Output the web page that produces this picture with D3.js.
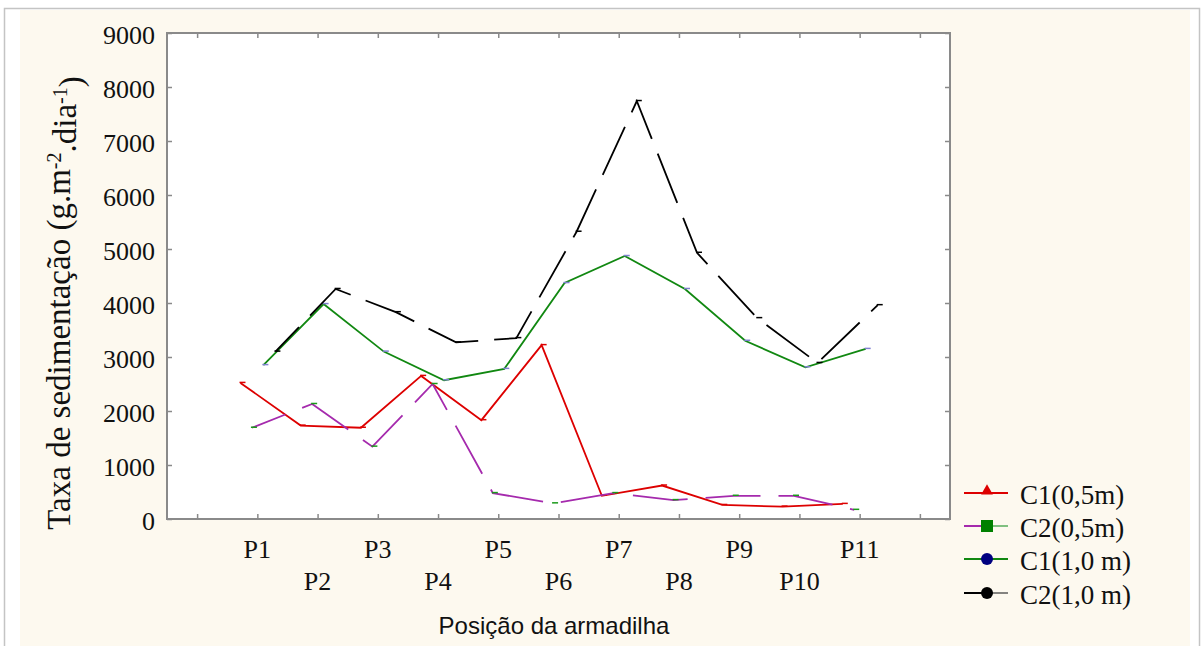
<!DOCTYPE html>
<html>
<head>
<meta charset="utf-8">
<script src="https://cdn.jsdelivr.net/npm/d3@7"></script>
<style>
  body { margin: 0; background: #ffffff; }
  svg { display: block; }
</style>
</head>
<body>
<div id="chart"></div>
<script>
// Trap positions (x categories)
const positions = ['P1', 'P2', 'P3', 'P4', 'P5', 'P6', 'P7', 'P8', 'P9', 'P10', 'P11'];

// Sedimentation rate (g.m-2.dia-1)
const c1_05 = [2520, 1730, 1690, 2650, 1830, 3220, 430, 620, 260, 230, 280];
const c2_05 = [1690, 2130, 1340, 2500, 480, 290, 480, 350, 430, 430, 170];
const c1_10 = [2850, 3980, 3100, 2570, 2780, 4370, 4870, 4260, 3300, 2810, 3150];
const c2_10 = [3100, 4260, 3830, 3270, 3350, 5320, 7740, 4930, 3720, 2890, 3960];

const yTicks = [0, 1000, 2000, 3000, 4000, 5000, 6000, 7000, 8000, 9000];

const seriesList = [
    { label: 'C1(0,5m)',  values: c1_05, color: '#dd0000', mark: '#dd0000', dash: null,    shift: -0.28, legendMarker: 'triangle', legendFill: '#dd0000', legendRight: '#dd0000' },
    { label: 'C2(0,5m)',  values: c2_05, color: '#a52aad', mark: '#1a9a1a', dash: '55,18', shift: -0.09, legendMarker: 'square',   legendFill: '#008000', legendRight: '#80c080' },
    { label: 'C1(1,0 m)', values: c1_10, color: '#118811', mark: '#8080d0', dash: null,    shift: 0.10,  legendMarker: 'circle',   legendFill: '#000080', legendRight: '#118811' },
    { label: 'C2(1,0 m)', values: c2_10, color: '#000000', mark: '#000000', dash: '53,16', shift: 0.30,  legendMarker: 'circle',   legendFill: '#000000', legendRight: '#333333' }
];

const W = 1204, H = 646;
const plot = { left: 167, right: 950, top: 33, bottom: 519 };
const serif = '"Liberation Serif", "Times New Roman", serif';
const sans = '"Liberation Sans", Arial, sans-serif';

const svg = d3.select('#chart').append('svg')
    .attr('width', W)
    .attr('height', H);

// Outer frame + cream panel
svg.append('rect')
    .attr('x', 4.5).attr('y', 8.5)
    .attr('width', 1195).attr('height', 650)
    .attr('fill', '#ffffff')
    .attr('stroke', '#c4c4c4')
    .attr('stroke-width', 1.5);
svg.append('rect')
    .attr('x', 20).attr('y', 10)
    .attr('width', 1170).attr('height', 640)
    .attr('fill', '#fdf9ef');

const x = d3.scaleLinear()
    .domain([-0.5, positions.length + 1.5])
    .range([plot.left, plot.right]);

const y = d3.scaleLinear()
    .domain([0, 9000])
    .range([plot.bottom, plot.top]);

// Plot area
svg.append('rect')
    .attr('x', plot.left).attr('y', plot.top)
    .attr('width', plot.right - plot.left)
    .attr('height', plot.bottom - plot.top)
    .attr('fill', '#ffffff');

const xTickVals = d3.range(0, positions.length + 2);
const tickLen = 5;
const axisColor = '#8a8a8a';

// Axes (ticks pointing inward on all four sides)
const axisBottom = svg.append('g')
    .attr('transform', `translate(0,${plot.bottom})`)
    .call(d3.axisTop(x).tickValues(xTickVals).tickSize(tickLen).tickSizeOuter(0).tickFormat(''));
const axisTop = svg.append('g')
    .attr('transform', `translate(0,${plot.top})`)
    .call(d3.axisBottom(x).tickValues(xTickVals).tickSize(tickLen).tickSizeOuter(0).tickFormat(''));
const axisLeft = svg.append('g')
    .attr('transform', `translate(${plot.left},0)`)
    .call(d3.axisRight(y).tickValues(yTicks).tickSize(tickLen).tickSizeOuter(0).tickFormat(''));
const axisRight = svg.append('g')
    .attr('transform', `translate(${plot.right},0)`)
    .call(d3.axisLeft(y).tickValues(yTicks).tickSize(tickLen).tickSizeOuter(0).tickFormat(''));

[axisBottom, axisTop, axisLeft, axisRight].forEach(a => {
    a.select('.domain').remove();
    a.selectAll('line').attr('stroke', axisColor).attr('stroke-width', 1.5);
});

// Frame
svg.append('rect')
    .attr('x', plot.left).attr('y', plot.top)
    .attr('width', plot.right - plot.left)
    .attr('height', plot.bottom - plot.top)
    .attr('fill', 'none')
    .attr('stroke', axisColor)
    .attr('stroke-width', 2);

// Y tick labels
svg.append('g').selectAll('text')
    .data(yTicks)
    .enter().append('text')
    .attr('x', 155)
    .attr('y', d => y(d))
    .attr('dy', '0.42em')
    .attr('text-anchor', 'end')
    .style('font-family', serif)
    .style('font-size', '26px')
    .style('fill', '#111')
    .text(d => d);

// X category labels, staggered on two rows
svg.append('g').selectAll('text')
    .data(positions)
    .enter().append('text')
    .attr('x', (d, i) => x(i + 1))
    .attr('y', (d, i) => i % 2 === 0 ? 558 : 590)
    .attr('text-anchor', 'middle')
    .style('font-family', serif)
    .style('font-size', '26px')
    .style('fill', '#111')
    .text(d => d);

// Axis titles
svg.append('text')
    .attr('x', 554)
    .attr('y', 634)
    .attr('text-anchor', 'middle')
    .style('font-family', sans)
    .style('font-size', '24px')
    .style('fill', '#111')
    .text('Posição da armadilha');

const yTitle = svg.append('text')
    .attr('transform', 'translate(70,303) rotate(-90)')
    .attr('text-anchor', 'middle')
    .style('font-family', serif)
    .style('font-size', '33px')
    .style('fill', '#111');
yTitle.append('tspan').text('Taxa de sedimentação (g.m');
yTitle.append('tspan').attr('dy', '-0.45em').style('font-size', '20px').text('-2');
yTitle.append('tspan').attr('dy', '0.45em').text('.dia');
yTitle.append('tspan').attr('dy', '-0.45em').style('font-size', '20px').text('-1');
yTitle.append('tspan').attr('dy', '0.45em').text(')');

// Lines
const lineGen = d3.line()
    .x(d => d.px)
    .y(d => y(d.v));

seriesList.forEach(s => {
    const pts = s.values.map((v, i) => ({ px: x(i + 1 + s.shift), v }));
    svg.append('path')
        .datum(pts)
        .attr('d', lineGen)
        .attr('fill', 'none')
        .attr('stroke', s.color)
        .attr('stroke-width', 1.8)
        .attr('stroke-linejoin', 'miter')
        .attr('stroke-dasharray', s.dash)
        .attr('stroke-dashoffset', s.dash ? 19 : null);

    // tiny point markers
    svg.append('g').selectAll('line')
        .data(pts)
        .enter().append('line')
        .attr('x1', d => d.px - 1)
        .attr('x2', d => d.px + 5)
        .attr('y1', d => y(d.v) - 0.5)
        .attr('y2', d => y(d.v) - 0.5)
        .attr('stroke', s.mark)
        .attr('stroke-width', 1.5);
});

// Legend
const legend = svg.append('g');
const rowY = [493, 526, 559, 593];
seriesList.forEach((s, i) => {
    const row = legend.append('g').attr('transform', `translate(0,${rowY[i]})`);
    row.append('line')
        .attr('x1', 964).attr('x2', 987)
        .attr('y1', 0).attr('y2', 0)
        .attr('stroke', s.color).attr('stroke-width', 2);
    row.append('line')
        .attr('x1', 987).attr('x2', 1008)
        .attr('y1', 0).attr('y2', 0)
        .attr('stroke', s.legendRight).attr('stroke-width', i === 3 ? 1.2 : 2);
    if (s.legendMarker === 'triangle') {
        row.append('path')
            .attr('d', d3.symbol().type(d3.symbolTriangle).size(60)())
            .attr('transform', 'translate(987,-2)')
            .attr('fill', s.legendFill);
    } else if (s.legendMarker === 'square') {
        row.append('rect')
            .attr('x', 981).attr('y', -6)
            .attr('width', 12).attr('height', 12)
            .attr('fill', s.legendFill);
    } else {
        row.append('circle')
            .attr('cx', 987).attr('cy', 0).attr('r', 6)
            .attr('fill', s.legendFill);
    }
    row.append('text')
        .attr('x', 1020)
        .attr('y', 11)
        .style('font-family', serif)
        .style('font-size', '27px')
        .style('fill', '#111')
        .text(s.label);
});
</script>
</body>
</html>
